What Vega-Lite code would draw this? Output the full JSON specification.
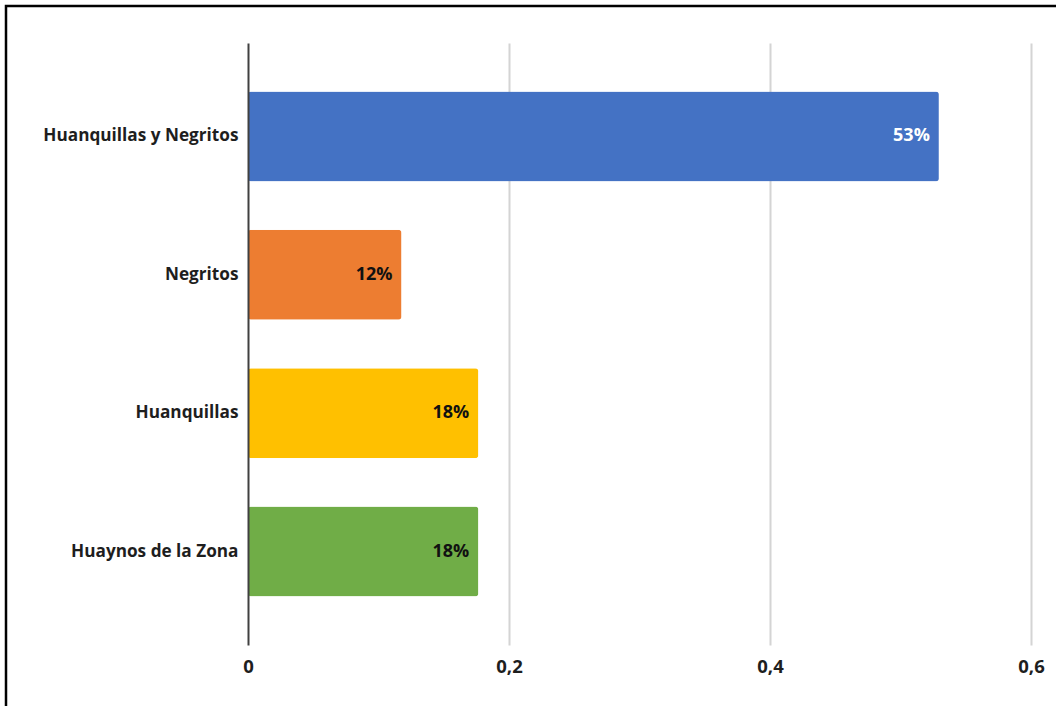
{
  "$schema": "https://vega.github.io/schema/vega-lite/v6.json",
  "width": 1052,
  "height": 702,
  "autosize": {"type": "none"},
  "padding": {"left": 6, "top": 6, "right": -2, "bottom": -2},
  "background": "white",
  "config": {"view": {"stroke": "#000000", "strokeWidth": 2.5}},
  "data": {
    "values": [
      {"categoria": "Huanquillas y Negritos", "valor": 0.5294},
      {"categoria": "Negritos", "valor": 0.1176},
      {"categoria": "Huanquillas", "valor": 0.1765},
      {"categoria": "Huaynos de la Zona", "valor": 0.1765}
    ]
  },
  "encoding": {
    "y": {
      "field": "categoria",
      "type": "nominal",
      "sort": null,
      "scale": {"range": [37, 639], "paddingInner": 0.35, "paddingOuter": 0.35},
      "axis": {
        "title": null,
        "domain": true,
        "domainColor": "#404040",
        "domainWidth": 2,
        "ticks": false,
        "tickSize": 0,
        "labelPadding": 10,
        "offset": -242,
        "labelFont": "Open Sans",
        "labelFontWeight": "bold",
        "labelFontSize": 17.2,
        "labelColor": "#1e1e1e",
        "labelLimit": 400,
        "grid": false,
        "zindex": 1
      }
    }
  },
  "layer": [
    {
      "mark": {"type": "bar", "cornerRadius": 3},
      "encoding": {
        "x": {
          "field": "valor",
          "type": "quantitative",
          "scale": {"domain": [0, 0.6], "range": [242, 1025], "nice": false, "zero": true},
          "axis": {
            "orient": "top",
            "title": null,
            "values": [0, 0.2, 0.4, 0.6],
            "labels": false,
            "domain": false,
            "ticks": false,
            "tickSize": 0,
            "grid": true,
            "gridColor": {"condition": {"test": "datum.value === 0", "value": "transparent"}, "value": "#d4d4d4"},
            "gridWidth": 2,
            "zindex": 0
          }
        },
        "color": {
          "field": "categoria",
          "type": "nominal",
          "legend": null,
          "scale": {
            "domain": ["Huanquillas y Negritos", "Negritos", "Huanquillas", "Huaynos de la Zona"],
            "range": ["#4472C4", "#ED7D31", "#FFC000", "#70AD47"]
          }
        }
      }
    },
    {
      "mark": {"type": "text", "align": "right", "baseline": "middle", "dx": -9, "font": "Open Sans", "fontWeight": "bold", "fontSize": 18},
      "encoding": {
        "x": {
          "field": "valor",
          "type": "quantitative",
          "axis": {
            "orient": "bottom",
            "title": null,
            "values": [0, 0.2, 0.4, 0.6],
            "labelExpr": "replace(toString(datum.value), '.', ',')",
            "domain": false,
            "ticks": false,
            "tickSize": 0,
            "labelPadding": 0,
            "offset": -36,
            "labelBaseline": "alphabetic",
            "labelFont": "Open Sans",
            "labelFontWeight": "bold",
            "labelFontSize": 18.5,
            "labelColor": "#1e1e1e",
            "labelFlush": false,
            "labelOverlap": false,
            "grid": false
          }
        },
        "text": {"field": "valor", "type": "quantitative", "format": ".0%"},
        "color": {
          "condition": {"test": "datum.categoria === 'Huanquillas y Negritos'", "value": "#ffffff"},
          "value": "#111111"
        }
      }
    }
  ],
  "resolve": {"axis": {"x": "independent"}}
}
